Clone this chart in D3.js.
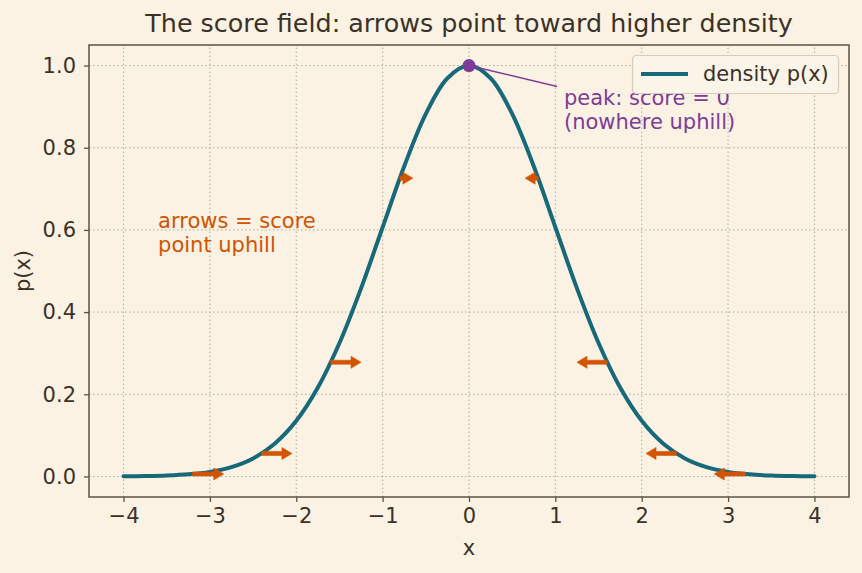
<!DOCTYPE html>
<html>
<head>
<meta charset="utf-8">
<script src="https://cdn.jsdelivr.net/npm/d3@7"></script>
<style>
  body { margin: 0; background: #fbf2e3; }
  svg { display: block; font-family: "DejaVu Sans", sans-serif; }
</style>
</head>
<body>
<div id="chart"></div>
<script>
// density values
const curveX = [-4, -3.75, -3.5, -3.25, -3, -2.75, -2.5, -2.25, -2, -1.75, -1.5, -1.25, -1, -0.75, -0.5, -0.25,
  0, 0.25, 0.5, 0.75, 1, 1.25, 1.5, 1.75, 2, 2.25, 2.5, 2.75, 3, 3.25, 3.5, 3.75, 4];
const curveP = [0.0003, 0.0009, 0.0022, 0.0051, 0.0111, 0.0228, 0.0439, 0.0796, 0.1353, 0.2163, 0.3247, 0.4578, 0.6065, 0.7548, 0.8825, 0.9692,
  1.0, 0.9692, 0.8825, 0.7548, 0.6065, 0.4578, 0.3247, 0.2163, 0.1353, 0.0796, 0.0439, 0.0228, 0.0111, 0.0051, 0.0022, 0.0009, 0.0003];

// score arrows: tail on the curve, dx in x units
const arrowX = [-3.2, -2.4, -1.6, -0.8, 0.8, 1.6, 2.4, 3.2];
const arrowY = [0.006, 0.056, 0.278, 0.726, 0.726, 0.278, 0.056, 0.006];
const arrowDx = [0.36, 0.35, 0.35, 0.15, -0.15, -0.35, -0.35, -0.36];

const xTicks = [-4, -3, -2, -1, 0, 1, 2, 3, 4];
const yTicks = [0.0, 0.2, 0.4, 0.6, 0.8, 1.0];

const W = 862, H = 573;
const margin = {top: 45, right: 13, bottom: 76, left: 89};
const ink = "#3b3128", spine = "#5e5243", gridc = "#b4aa99";
const teal = "#17697a", orange = "#d35400", purple = "#7d3c98";

let svg = d3.select("#chart").append("svg").attr("width", W).attr("height", H);
svg.append("rect").attr("width", W).attr("height", H).attr("fill", "#fbf2e3");

let x = d3.scaleLinear().domain([-4.4, 4.4]).range([margin.left, W - margin.right]);
let y = d3.scaleLinear().domain([-0.05, 1.05]).range([H - margin.bottom, margin.top]);

// grid
let grid = svg.append("g").attr("stroke", gridc).attr("stroke-width", 1).attr("stroke-dasharray", "1.5,2.5");
xTicks.forEach(function(t){
  grid.append("line").attr("x1", x(t)).attr("x2", x(t)).attr("y1", y.range()[0]).attr("y2", y.range()[1]);
});
yTicks.forEach(function(t){
  grid.append("line").attr("y1", y(t)).attr("y2", y(t)).attr("x1", x.range()[0]).attr("x2", x.range()[1]);
});

// axes
let fmtX = d => d < 0 ? "\u2212" + Math.abs(d) : String(d);
let xAxis = svg.append("g").attr("transform", `translate(0,${H - margin.bottom})`)
  .call(d3.axisBottom(x).tickValues(xTicks).tickFormat(fmtX).tickSize(5).tickPadding(6));
let yAxis = svg.append("g").attr("transform", `translate(${margin.left},0)`)
  .call(d3.axisLeft(y).tickValues(yTicks).tickFormat(d3.format(".1f")).tickSize(5).tickPadding(8));
[xAxis, yAxis].forEach(function(a){
  a.select(".domain").remove();
  a.selectAll(".tick line").attr("stroke", spine).attr("stroke-width", 1.3);
  a.selectAll(".tick text").attr("fill", ink).attr("font-size", 21).attr("font-family", "DejaVu Sans");
});

svg.append("rect")
  .attr("x", margin.left).attr("y", margin.top)
  .attr("width", W - margin.left - margin.right).attr("height", H - margin.top - margin.bottom)
  .attr("fill", "none").attr("stroke", spine).attr("stroke-width", 1.5);

// density curve
let line = d3.line().x((d, i) => x(curveX[i])).y(d => y(d)).curve(d3.curveCatmullRom);
svg.append("path").datum(curveP).attr("d", line)
  .attr("fill", "none").attr("stroke", teal).attr("stroke-width", 4).attr("stroke-linecap", "round");

// score arrows
let headL = 10, headW = 6, shaftW = 2;
arrowX.forEach(function(ax, i){
  let x0 = x(ax), x1 = x(ax + arrowDx[i]), yy = y(arrowY[i]);
  let dir = Math.sign(x1 - x0);
  let xb = x1 - dir * headL;
  let pts = [[x0, yy - shaftW], [xb, yy - shaftW], [xb, yy - headW], [x1, yy], [xb, yy + headW], [xb, yy + shaftW], [x0, yy + shaftW]];
  svg.append("path").attr("d", "M" + pts.map(p => p.join(",")).join("L") + "Z")
    .attr("fill", orange).attr("stroke", orange).attr("stroke-width", 0.6).attr("stroke-linejoin", "round");
});

// peak annotation
svg.append("line")
  .attr("x1", x(0)).attr("y1", y(1.0)).attr("x2", x(1.02)).attr("y2", y(0.949))
  .attr("stroke", purple).attr("stroke-width", 1.5);
svg.append("circle").attr("cx", x(0)).attr("cy", y(1.0)).attr("r", 6.5).attr("fill", purple);
let peakT = svg.append("text").attr("fill", purple).attr("font-size", 21);
peakT.append("tspan").attr("x", x(1.1)).attr("y", y(0.903)).text("peak: score = 0");
peakT.append("tspan").attr("x", x(1.1)).attr("y", y(0.903) + 23.5).text("(nowhere uphill)");

let noteT = svg.append("text").attr("fill", orange).attr("font-size", 21);
noteT.append("tspan").attr("x", x(-3.6)).attr("y", y(0.604)).text("arrows = score");
noteT.append("tspan").attr("x", x(-3.6)).attr("y", y(0.604) + 23.5).text("point uphill");

// legend
let lg = svg.append("g");
lg.append("rect").attr("x", 632.5).attr("y", 55.5).attr("width", 206).attr("height", 38).attr("rx", 4)
  .attr("fill", "#fbf4e8").attr("stroke", "#d6ccbc").attr("stroke-width", 1.2);
lg.append("line").attr("x1", 641).attr("x2", 688).attr("y1", 74).attr("y2", 74)
  .attr("stroke", teal).attr("stroke-width", 4);
lg.append("text").attr("x", 703).attr("y", 81).attr("fill", ink).attr("font-size", 21).text("density p(x)");

// title and labels
svg.append("text").attr("x", (margin.left + W - margin.right) / 2).attr("y", 32)
  .attr("text-anchor", "middle").attr("fill", ink).attr("font-size", 25.4)
  .text("The score field: arrows point toward higher density");
svg.append("text").attr("x", (margin.left + W - margin.right) / 2).attr("y", 555)
  .attr("text-anchor", "middle").attr("fill", ink).attr("font-size", 21).text("x");
svg.append("text").attr("transform", `translate(30,${(margin.top + H - margin.bottom) / 2}) rotate(-90)`)
  .attr("text-anchor", "middle").attr("fill", ink).attr("font-size", 21).text("p(x)");
</script>
</body>
</html>
